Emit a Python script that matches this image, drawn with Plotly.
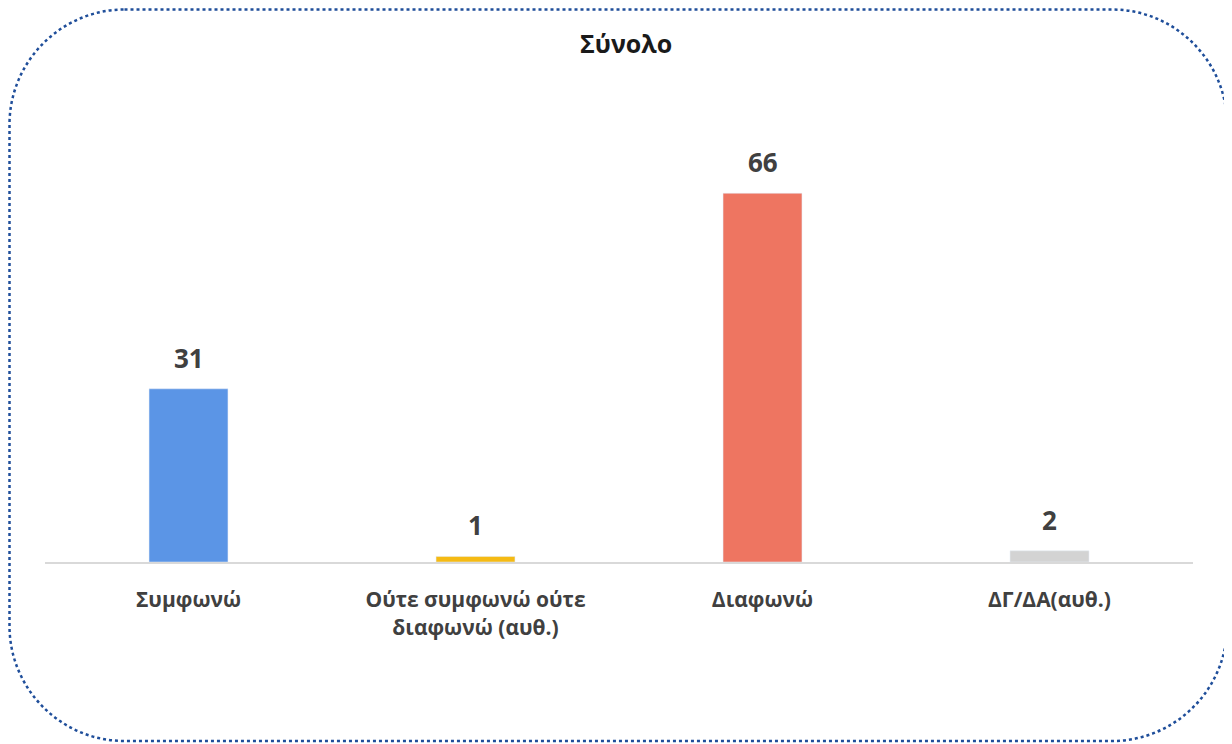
import plotly.graph_objects as go

categories = ["Συμφωνώ", "Ούτε συμφωνώ ούτε<br>διαφωνώ (αυθ.)", "Διαφωνώ", "ΔΓ/ΔΑ(αυθ.)"]
values = [31, 1, 66, 2]
colors = ["#5B95E6", "#F5BA14", "#EE7561", "#D3D3D3"]

# the page adds an 8px body margin, so the figure is a little smaller than the window
W, H = 1224, 736
L, R, T, B = 37, 39, 135, 182
FONT = "Open Sans"
TEXT = "#404040"


def px_x(px):
    return (px - L) / (W - L - R)


def px_y(py):
    return (H - B - py) / (H - T - B)


fig = go.Figure()
fig.add_trace(go.Bar(x=categories, y=values, marker_color=colors, width=0.275))

for c, v in zip(categories, values):
    fig.add_annotation(x=c, y=v, text=f"<b>{v}</b>", showarrow=False,
                       yanchor="bottom", yshift=11,
                       font=dict(family=FONT, size=26, color=TEXT))

# dotted rounded frame round the whole chart (cubic corners so paper scaling keeps shape)
x0, x1, y0, y1, r = 1.5, 1219, 1.5, 733, 115
k = 0.55 * r
pts = [
    f"M {px_x(x0 + r)},{px_y(y0)}",
    f"L {px_x(x1 - r)},{px_y(y0)}",
    f"C {px_x(x1 - r + k)},{px_y(y0)} {px_x(x1)},{px_y(y0 + r - k)} {px_x(x1)},{px_y(y0 + r)}",
    f"L {px_x(x1)},{px_y(y1 - r)}",
    f"C {px_x(x1)},{px_y(y1 - r + k)} {px_x(x1 - r + k)},{px_y(y1)} {px_x(x1 - r)},{px_y(y1)}",
    f"L {px_x(x0 + r)},{px_y(y1)}",
    f"C {px_x(x0 + r - k)},{px_y(y1)} {px_x(x0)},{px_y(y1 - r + k)} {px_x(x0)},{px_y(y1 - r)}",
    f"L {px_x(x0)},{px_y(y0 + r)}",
    f"C {px_x(x0)},{px_y(y0 + r - k)} {px_x(x0 + r - k)},{px_y(y0)} {px_x(x0 + r)},{px_y(y0)} Z",
]
fig.add_shape(type="path", path=" ".join(pts), xref="paper", yref="paper",
              line=dict(color="#1F4E9A", width=2.5, dash="dot"))

fig.update_layout(
    width=W, height=H,
    margin=dict(l=L, r=R, t=T, b=B),
    paper_bgcolor="white", plot_bgcolor="white",
    showlegend=False,
    title=dict(text="<b>Σύνολο</b>", x=0.505, xanchor="center", y=1 - 36 / H, yanchor="middle",
               font=dict(family=FONT, size=25, color="#1a1a1a")),
    font=dict(family=FONT, color=TEXT),
    xaxis=dict(showline=True, linecolor="#D9D9D9", linewidth=2, showgrid=False,
               ticks="outside", ticklen=18, tickcolor="rgba(0,0,0,0)",
               tickfont=dict(family=FONT, size=21, color=TEXT, weight="bold")),
    yaxis=dict(range=[0, 75], visible=False, showgrid=False, zeroline=False),
)

fig.write_html("out.html")
